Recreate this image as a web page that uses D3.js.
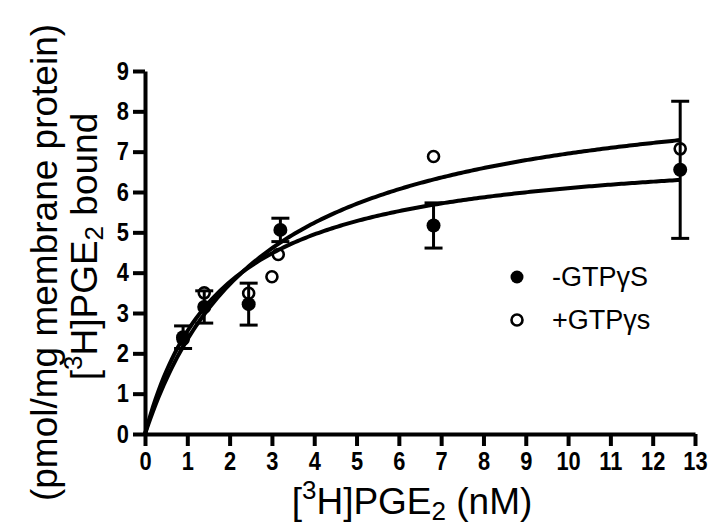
<!DOCTYPE html>
<html>
<head>
<meta charset="utf-8">
<script src="https://cdn.jsdelivr.net/npm/d3@7"></script>
<style>
  body { margin: 0; background: #fff; }
  svg { display: block; }
</style>
</head>
<body>
<script>
// -GTPγS (filled) points, mean and SEM
const xFilled   = [0.9, 1.4, 2.45, 3.2, 6.82, 12.65]
const yFilled   = [2.4, 3.15, 3.22, 5.06, 5.17, 6.55]
const errFilled = [0.28, 0.4, 0.52, 0.29, 0.56, 1.7]

// +GTPγs (open) points
const xOpen = [0.9, 1.4, 2.45, 3.0, 3.15, 6.82, 12.65]
const yOpen = [2.35, 3.5, 3.49, 3.9, 4.45, 6.88, 7.07]

// one-site binding fit: [filled, open]
const bmax = [7.21, 8.9]
const kd   = [1.83, 2.8]

const xTicks = d3.range(0, 14)
const yTicks = d3.range(0, 10)
const legendLabels = ["-GTPγS", "+GTPγs"]

const W = 711, H = 530
const margin = {top: 71, left: 145, right: 16, bottom: 96}
const width = W - margin.left - margin.right,
      height = H - margin.top - margin.bottom

const svg = d3.select("body").append("svg")
    .attr("width", W)
    .attr("height", H)

const g = svg.append("g")
    .attr("transform", `translate(${margin.left}, ${margin.top})`)

const x = d3.scaleLinear().domain([0, 13]).range([0, width])
const y = d3.scaleLinear().domain([0, 9]).range([height, 0])

const tickFont = "'Liberation Sans', Arial, sans-serif"
const textFont = "'Liberation Sans', Arial, Helvetica, sans-serif"
const squeeze = 0.84   // tick labels are a condensed bold face

// axes
const xAxis = g.append("g")
    .attr("transform", `translate(0, ${height})`)
    .call(d3.axisBottom(x).tickValues(xTicks).tickSize(12).tickSizeOuter(0).tickPadding(6))
const yAxis = g.append("g")
    .call(d3.axisLeft(y).tickValues(yTicks).tickSize(12).tickSizeOuter(0).tickPadding(4))

;[xAxis, yAxis].forEach(a => {
    a.select(".domain").attr("stroke", "#000").attr("stroke-width", 4)
    a.selectAll(".tick line").attr("stroke", "#000").attr("stroke-width", 4)
    a.selectAll(".tick text")
        .attr("fill", "#000")
        .style("font-family", tickFont)
        .style("font-weight", "bold")
        .style("font-size", "26px")
        .attr("transform", `scale(${squeeze}, 1)`)
})
yAxis.selectAll(".tick text").attr("x", -16 / squeeze)

// fitted curves
const line = d3.line().x(d => x(d[0])).y(d => y(d[1]))
const xMax = d3.max(xFilled)
bmax.forEach((b, i) => {
    const pts = d3.range(0, 201).map(k => {
        const xv = xMax * k / 200
        return [xv, b * xv / (kd[i] + xv)]
    })
    g.append("path")
        .attr("d", line(pts))
        .attr("fill", "none")
        .attr("stroke", "#000")
        .attr("stroke-width", 4)
})

// error bars
const cap = 9
xFilled.forEach((xv, i) => {
    const lo = yFilled[i] - errFilled[i], hi = yFilled[i] + errFilled[i]
    const eb = g.append("g").attr("stroke", "#000").attr("stroke-width", 3)
    eb.append("line").attr("x1", x(xv)).attr("x2", x(xv)).attr("y1", y(lo)).attr("y2", y(hi))
    eb.append("line").attr("x1", x(xv) - cap).attr("x2", x(xv) + cap).attr("y1", y(lo)).attr("y2", y(lo))
    eb.append("line").attr("x1", x(xv) - cap).attr("x2", x(xv) + cap).attr("y1", y(hi)).attr("y2", y(hi))
})

// points
g.selectAll(".filled")
    .data(xFilled)
    .enter().append("circle")
    .attr("cx", d => x(d))
    .attr("cy", (d, i) => y(yFilled[i]))
    .attr("r", 7)
    .attr("fill", "#000")

g.selectAll(".open")
    .data(xOpen)
    .enter().append("circle")
    .attr("cx", d => x(d))
    .attr("cy", (d, i) => y(yOpen[i]))
    .attr("r", 5.5)
    .attr("fill", "none")
    .attr("stroke", "#000")
    .attr("stroke-width", 2.6)

// legend
const legend = svg.append("g").attr("transform", "translate(517, 277)")
legendLabels.forEach((lab, i) => {
    const row = legend.append("g").attr("transform", `translate(0, ${i * 43})`)
    row.append("circle")
        .attr("r", i === 0 ? 6.5 : 5.5)
        .attr("fill", i === 0 ? "#000" : "none")
        .attr("stroke", "#000")
        .attr("stroke-width", i === 0 ? 0 : 2.6)
    row.append("text")
        .attr("x", 35)
        .attr("y", 9)
        .style("font-family", textFont)
        .style("font-size", "27px")
        .text(lab)
})

// axis titles
function pgeTitle(sel, tail) {
    sel.append("tspan").text("[")
    sel.append("tspan").attr("baseline-shift", "super").style("font-size", "26px").text("3")
    sel.append("tspan").text("H]PGE")
    sel.append("tspan").attr("baseline-shift", "-6").style("font-size", "26px").text("2")
    sel.append("tspan").text(tail)
}

const xTitle = svg.append("text")
    .attr("x", margin.left + width / 2 - 8)
    .attr("y", 514)
    .attr("text-anchor", "middle")
    .style("font-family", textFont)
    .style("font-size", "37px")
pgeTitle(xTitle, " (nM)")

const yTitle1 = svg.append("text")
    .attr("transform", `translate(97, ${margin.top + height / 2 - 6}) rotate(-90)`)
    .attr("text-anchor", "middle")
    .style("font-family", textFont)
    .style("font-size", "37px")
pgeTitle(yTitle1, " bound")

svg.append("text")
    .attr("transform", `translate(57, ${margin.top + height / 2 + 10}) rotate(-90)`)
    .attr("text-anchor", "middle")
    .style("font-family", textFont)
    .style("font-size", "37px")
    .text("(pmol/mg membrane protein)")
</script>
</body>
</html>
